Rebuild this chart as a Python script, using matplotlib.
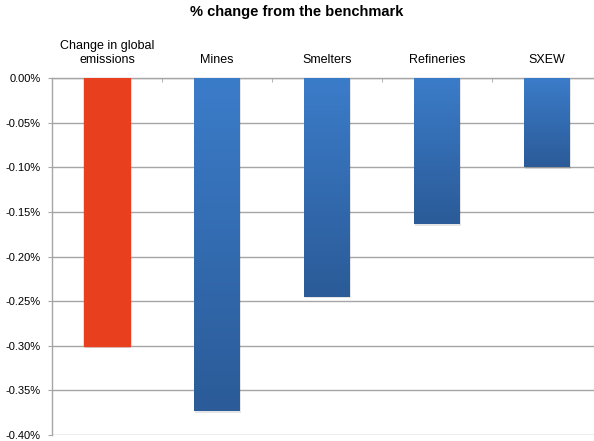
import numpy as np
import matplotlib.pyplot as plt
from matplotlib.colors import LinearSegmentedColormap
from matplotlib.ticker import FuncFormatter

plt.rcParams['font.family'] = ['Liberation Sans', 'DejaVu Sans']

# % change from the benchmark
categories = ['Change in global\nemissions', 'Mines', 'Smelters', 'Refineries', 'SXEW']
values = [-0.300, -0.373, -0.245, -0.164, -0.100]
y_ticks = [0.0, -0.05, -0.10, -0.15, -0.20, -0.25, -0.30, -0.35, -0.40]

fig = plt.figure(figsize=(5.94, 4.41), dpi=100)
ax = fig.add_axes([0.0875, 0.0136, 0.926, 0.8095])

x = np.arange(len(categories))
width = 0.41
bars = ax.bar(x, values, width=width, color='#3a7bc8', zorder=3)

# red bar for the global total, gradient for the rest
blues = LinearSegmentedColormap.from_list('blues', ['#3b7cc9', '#2b5b98'])
grad = np.linspace(0, 1, 256).reshape(-1, 1)
for i, b in enumerate(bars):
    # soft shadow under the bar
    ax.bar(x[i] + 0.008, values[i] - 0.002, width=width + 0.01, color='#000000',
           alpha=0.10, zorder=2, linewidth=0)
    if i == 0:
        b.set_color('#e8401f')
        continue
    b.set_facecolor('none')
    im = ax.imshow(grad, cmap=blues, aspect='auto', zorder=3,
                   extent=[x[i] - width / 2, x[i] + width / 2, values[i], 0])
    im.set_clip_path(b)

ax.set_xlim(-0.5, len(categories) - 0.5)
ax.set_ylim(-0.40, 0.0)
ax.set_yticks(y_ticks)
ax.yaxis.set_major_formatter(FuncFormatter(lambda v, p: f'{v:.2f}%'))
ax.yaxis.grid(True, color='#a6a6a6', linewidth=1.0, zorder=0)
ax.set_axisbelow(True)

ax.xaxis.tick_top()
ax.set_xticks(x)
ax.set_xticklabels(categories, fontsize=9, multialignment='center')
ax.tick_params(axis='x', length=0, pad=9)
ax.set_xticks(x[:-1] + 0.5, minor=True)
ax.tick_params(axis='x', which='minor', top=True, bottom=False, length=3,
               direction='in', color='#a6a6a6')
ax.tick_params(axis='y', labelsize=8, length=3, color='#a6a6a6', pad=5)

for s in ['right', 'bottom']:
    ax.spines[s].set_visible(False)
for s in ['left', 'top']:
    ax.spines[s].set_color('#a6a6a6')
    ax.spines[s].set_linewidth(1.0)

fig.text(0.5, 0.988, '% change from the benchmark', ha='center', va='top',
         fontsize=10.5, fontweight='bold')

fig.savefig('out.png', dpi=100)
